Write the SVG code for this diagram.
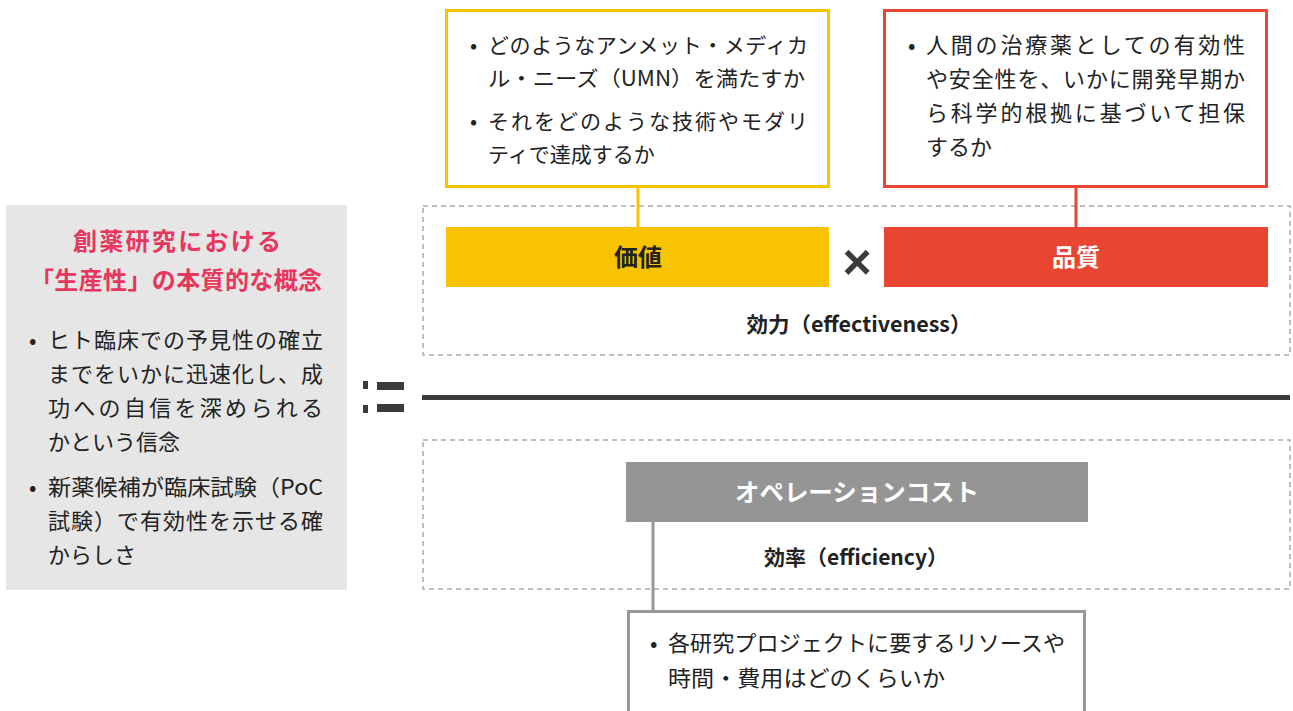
<svg xmlns="http://www.w3.org/2000/svg" width="1293" height="711" viewBox="0 0 1293 711">
<style>
text{font-family:"Noto Sans CJK JP","Noto Sans",sans-serif;fill:#222}
.b{font-size:21px}
.r{font-size:22px}
.l{font-size:22px}
.h{font-size:24px;font-weight:bold}
.c{text-anchor:middle}
.dash{fill:none;stroke:#aaa;stroke-width:1.5;stroke-dasharray:5 4}
.conn{fill:none;stroke-width:3}
</style>
<rect width="1293" height="711" fill="#fff"/>
<g id="concept">
<rect x="6" y="205" width="341" height="385" fill="#e6e6e6"/>
<text class="h c" x="177" y="250" style="fill:#e8365d" textLength="208" lengthAdjust="spacing">創薬研究における</text>
<text class="h c" x="176" y="289" style="fill:#e8365d" textLength="292" lengthAdjust="spacing">「生産性」の本質的な概念</text>
<text class="l" x="29" y="348">•</text>
<text class="l" x="48" y="348" textLength="275" lengthAdjust="spacing">ヒト臨床での予見性の確立</text>
<text class="l" x="48" y="382" textLength="275" lengthAdjust="spacing">までをいかに迅速化し、成</text>
<text class="l" x="48" y="416" textLength="275" lengthAdjust="spacing">功への自信を深められる</text>
<text class="l" x="48" y="450">かという信念</text>
<text class="l" x="29" y="495">•</text>
<text class="l" x="48" y="495" textLength="275" lengthAdjust="spacingAndGlyphs">新薬候補が臨床試験（PoC</text>
<text class="l" x="48" y="529" textLength="275" lengthAdjust="spacing">試験）で有効性を示せる確</text>
<text class="l" x="48" y="563">からしさ</text>
</g>
<g id="defines">
<rect x="363" y="381" width="5" height="8" fill="#3d3a3b"/>
<rect x="377" y="382" width="27" height="8" fill="#3d3a3b"/>
<rect x="363" y="405" width="5" height="8" fill="#3d3a3b"/>
<rect x="377" y="404" width="27" height="8" fill="#3d3a3b"/>
</g>
<g id="divider">
<rect x="422" y="395" width="868" height="5" fill="#3d3a3b"/>
</g>
<g id="effectiveness">
<rect class="dash" x="423" y="206" width="867" height="149"/>
<text class="c" x="859" y="332" style="font-size:21px;font-weight:bold" textLength="225" lengthAdjust="spacingAndGlyphs">効力（effectiveness）</text>
</g>
<g id="efficiency">
<rect class="dash" x="423" y="440" width="867" height="149"/>
<text class="c" x="856" y="565" style="font-size:21px;font-weight:bold" textLength="184" lengthAdjust="spacingAndGlyphs">効率（efficiency）</text>
</g>
<g id="connectors">
<line class="conn" x1="638" y1="187" x2="638" y2="228" stroke="#f8c300"/>
<line class="conn" x1="1076" y1="187" x2="1076" y2="228" stroke="#e94533"/>
<line class="conn" x1="653" y1="522" x2="653" y2="612" stroke="#999"/>
</g>
<g id="value-note">
<rect x="446.5" y="10.5" width="382" height="176" fill="#fff" stroke="#f8c300" stroke-width="3"/>
<text class="b" x="470" y="53">•</text>
<text class="b" x="488" y="53" textLength="320" lengthAdjust="spacing">どのようなアンメット・メディカ</text>
<text class="b" x="488" y="86" textLength="317" lengthAdjust="spacingAndGlyphs">ル・ニーズ（UMN）を満たすか</text>
<text class="b" x="470" y="129">•</text>
<text class="b" x="488" y="129" textLength="320" lengthAdjust="spacing">それをどのような技術やモダリ</text>
<text class="b" x="488" y="162">ティで達成するか</text>
</g>
<g id="quality-note">
<rect x="884.5" y="10.5" width="382" height="176" fill="#fff" stroke="#e94533" stroke-width="3"/>
<text class="r" x="908" y="53">•</text>
<text class="r" x="926" y="53" textLength="319" lengthAdjust="spacing">人間の治療薬としての有効性</text>
<text class="r" x="926" y="87" textLength="319" lengthAdjust="spacing">や安全性を、いかに開発早期か</text>
<text class="r" x="926" y="121" textLength="319" lengthAdjust="spacing">ら科学的根拠に基づいて担保</text>
<text class="r" x="926" y="155">するか</text>
</g>
<g id="value">
<rect x="446" y="227" width="383" height="60" fill="#f8c300"/>
<text class="h c" x="638" y="266">価値</text>
</g>
<g id="times">
<text class="c" x="857" y="279" style="font-size:50px;font-weight:bold;fill:#3d3a3b;font-family:'Liberation Sans',sans-serif">×</text>
</g>
<g id="quality">
<rect x="884" y="227" width="384" height="60" fill="#e94533"/>
<text class="h c" x="1076" y="266" style="fill:#fff">品質</text>
</g>
<g id="opcost">
<rect x="626" y="462" width="462" height="60" fill="#959595"/>
<text class="h c" x="857" y="501" style="fill:#fff" textLength="244" lengthAdjust="spacingAndGlyphs">オペレーションコスト</text>
</g>
<g id="cost-note">
<rect x="628.5" y="611.5" width="456" height="110" fill="#fff" stroke="#999" stroke-width="3"/>
<text class="r" x="650" y="651">•</text>
<text class="r" x="668" y="651" textLength="397" lengthAdjust="spacingAndGlyphs">各研究プロジェクトに要するリソースや</text>
<text class="r" x="668" y="686" textLength="277" lengthAdjust="spacingAndGlyphs">時間・費用はどのくらいか</text>
</g>
</svg>
